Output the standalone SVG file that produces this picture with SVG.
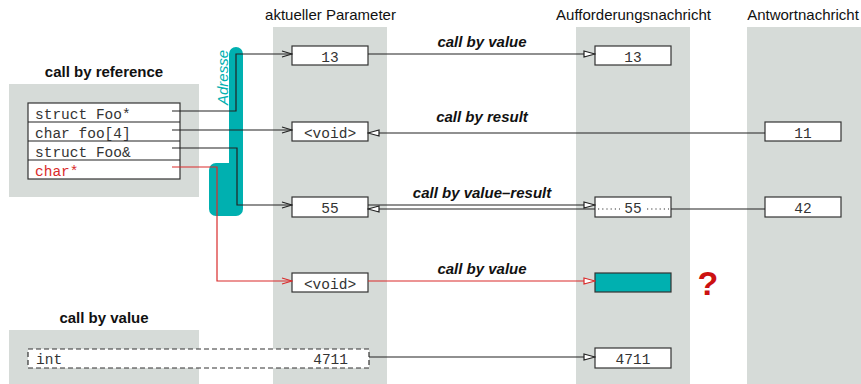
<svg xmlns="http://www.w3.org/2000/svg" width="861" height="384" viewBox="0 0 861 384">
<defs>
<style>
.panel{fill:#d6dbd8}
.hdr{font-family:"Liberation Sans",Arial,sans-serif;font-size:15px;fill:#111;text-anchor:middle}
.sec{font-family:"Liberation Sans",Arial,sans-serif;font-size:15px;font-weight:bold;fill:#111;text-anchor:middle}
.lbl{font-family:"Liberation Sans",Arial,sans-serif;font-size:15px;font-weight:bold;font-style:italic;fill:#111;text-anchor:middle}
.box{fill:#fff;stroke:#333;stroke-width:1.2}
.mono{font-family:"Liberation Mono","Courier New",monospace;font-size:14.5px;fill:#333}
.c{text-anchor:middle}
.conn{fill:none;stroke:#222;stroke-width:1.2}
.red{stroke:#d92b2b}
.redtxt{fill:#d92b2b}
.teal{fill:#00b0b0}
</style>
<marker id="barb" markerUnits="userSpaceOnUse" viewBox="0 0 12 8" refX="11" refY="4" markerWidth="12" markerHeight="8" orient="auto"><path d="M1,1 L11,4 L1,7" fill="none" stroke="#222" stroke-width="1.2"/></marker>
<marker id="barbR" markerUnits="userSpaceOnUse" viewBox="0 0 12 8" refX="11" refY="4" markerWidth="12" markerHeight="8" orient="auto"><path d="M1,1 L11,4 L1,7" fill="none" stroke="#d92b2b" stroke-width="1.2"/></marker>
<marker id="tri" markerUnits="userSpaceOnUse" viewBox="0 0 13 8" refX="12" refY="4" markerWidth="13" markerHeight="8" orient="auto"><path d="M1,1 L12,4 L1,7 Z" fill="#fff" stroke="#222" stroke-width="1.2"/></marker>
<marker id="triR" markerUnits="userSpaceOnUse" viewBox="0 0 13 8" refX="12" refY="4" markerWidth="13" markerHeight="8" orient="auto"><path d="M1,1 L12,4 L1,7 Z" fill="#fff" stroke="#d92b2b" stroke-width="1.2"/></marker>
</defs>

<g id="background">
<rect class="panel" x="9" y="84" width="190" height="113"/>
<rect class="panel" x="9" y="330" width="190" height="54"/>
<rect class="panel" x="273" y="27" width="114" height="357"/>
<rect class="panel" x="576" y="27" width="114" height="357"/>
<rect class="panel" x="747" y="27" width="114" height="357"/>
</g>

<g id="headers">
<text class="hdr" x="330.5" y="20">aktueller Parameter</text>
<text class="hdr" x="633.5" y="20">Aufforderungsnachricht</text>
<text class="hdr" x="803" y="20">Antwortnachricht</text>
<text class="sec" x="104" y="77">call by reference</text>
<text class="sec" x="104" y="323">call by value</text>
</g>

<g id="adresse">
<path class="teal" d="M229,54 A7,7 0 0 1 243,54 L243,209 A7,7 0 0 1 236,216 L216,216 A7,7 0 0 1 209,209 L209,170 A7,7 0 0 1 216,163 L229,163 Z"/>
<text transform="translate(228,105) rotate(-90)" font-family="Liberation Sans, Arial, sans-serif" font-size="15" font-style="italic" fill="#00b0b0">Adresse</text>
</g>

<g id="ref-struct">
<rect class="box" x="28" y="103" width="152" height="76"/>
<line class="conn" x1="28" y1="122" x2="180" y2="122" stroke="#333"/>
<line class="conn" x1="28" y1="141" x2="180" y2="141" stroke="#333"/>
<line class="conn" x1="28" y1="160" x2="180" y2="160" stroke="#333"/>
<text class="mono" x="35" y="119">struct Foo*</text>
<text class="mono" x="35" y="138">char foo[4]</text>
<text class="mono" x="35" y="157">struct Foo&amp;</text>
<text class="mono redtxt" x="35" y="176">char*</text>
</g>

<g id="val-int">
<rect class="box" x="28" y="349" width="341" height="19" stroke-dasharray="5,3"/>
<text class="mono" x="36" y="364">int</text>
<text class="mono" x="348" y="364" text-anchor="end">4711</text>
</g>

<g id="p-13"><rect class="box" x="292" y="46" width="76" height="19"/><text class="mono c" x="330" y="61.5">13</text></g>
<g id="p-void1"><rect class="box" x="292" y="122" width="76" height="19"/><text class="mono c" x="330" y="137.5">&lt;void&gt;</text></g>
<g id="p-55"><rect class="box" x="292" y="197" width="76" height="20"/><text class="mono c" x="330" y="213">55</text></g>
<g id="p-void2"><rect class="box" x="292" y="273" width="76" height="19"/><text class="mono c" x="330" y="288.5">&lt;void&gt;</text></g>

<g id="a-13"><rect class="box" x="595" y="46" width="76" height="19"/><text class="mono c" x="633" y="61.5">13</text></g>
<g id="a-55"><rect class="box" x="595" y="197" width="76" height="20"/>
<line x1="598" y1="209" x2="620" y2="209" stroke="#333" stroke-width="1.2" stroke-dasharray="1.2,3"/>
<line x1="647" y1="209" x2="669" y2="209" stroke="#333" stroke-width="1.2" stroke-dasharray="1.2,3"/>
<text class="mono c" x="633" y="213">55</text></g>
<g id="a-teal"><rect x="595" y="273" width="76" height="19" fill="#00b0b0" stroke="#333" stroke-width="1.2"/></g>
<g id="a-4711"><rect class="box" x="595" y="348" width="76" height="20"/><text class="mono c" x="633" y="363.5">4711</text></g>

<g id="r-11"><rect class="box" x="765" y="122" width="76" height="19"/><text class="mono c" x="803" y="137.5">11</text></g>
<g id="r-42"><rect class="box" x="765" y="197" width="76" height="20"/><text class="mono c" x="803" y="213">42</text></g>

<g id="question"><text x="708" y="295" font-family="Liberation Sans, Arial, sans-serif" font-size="34" font-weight="bold" fill="#cc1111" text-anchor="middle">?</text></g>

<g id="connectors">
<polyline class="conn" points="172,111 236,111 236,54 292,54" marker-end="url(#barb)"/>
<polyline class="conn" points="172,130 292,130" marker-end="url(#barb)"/>
<polyline class="conn" points="172,148 237,148 237,205 292,205" marker-end="url(#barb)"/>
<polyline class="conn red" points="172,167 217,167 217,281 292,281" marker-end="url(#barbR)"/>
<line class="conn" x1="368" y1="54" x2="595" y2="54" marker-end="url(#tri)"/>
<line class="conn" x1="765" y1="133" x2="368" y2="133" marker-end="url(#tri)"/>
<line class="conn" x1="368" y1="205" x2="595" y2="205" marker-end="url(#tri)"/>
<line class="conn" x1="765" y1="209" x2="671" y2="209"/>
<line class="conn" x1="595" y1="209" x2="368" y2="209" marker-end="url(#tri)"/>
<line class="conn red" x1="368" y1="281" x2="595" y2="281" marker-end="url(#triR)"/>
<line class="conn" x1="369" y1="357" x2="595" y2="357" marker-end="url(#tri)"/>
</g>

<g id="labels">
<text class="lbl" x="482" y="47">call by value</text>
<text class="lbl" x="482" y="122">call by result</text>
<text class="lbl" x="482" y="198">call by value–result</text>
<text class="lbl" x="482" y="274">call by value</text>
</g>
</svg>
